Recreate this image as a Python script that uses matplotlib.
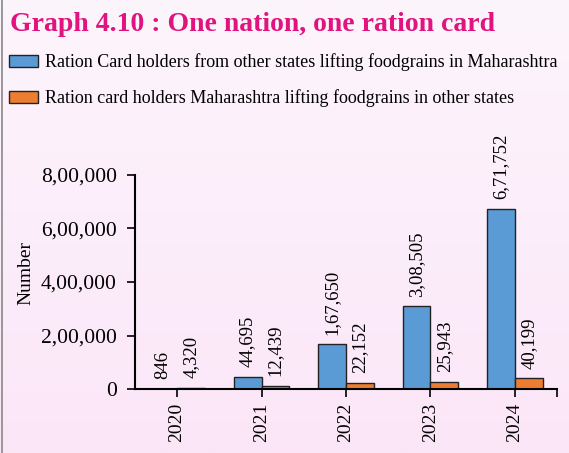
import numpy as np
import matplotlib.pyplot as plt
from matplotlib.colors import LinearSegmentedColormap

plt.rcParams["font.family"] = ["Liberation Serif", "DejaVu Serif"]

years = ["2020", "2021", "2022", "2023", "2024"]
in_maharashtra = [846, 44695, 167650, 308505, 671752]
in_other_states = [4320, 12439, 22152, 25943, 40199]
in_maharashtra_labels = ["846", "44,695", "1,67,650", "3,08,505", "6,71,752"]
in_other_states_labels = ["4,320", "12,439", "22,152", "25,943", "40,199"]
y_ticks = [0, 200000, 400000, 600000, 800000]
y_tick_labels = ["0", "2,00,000", "4,00,000", "6,00,000", "8,00,000"]

legend_labels = ["Ration Card holders from other states lifting foodgrains in Maharashtra",
                 "Ration card holders Maharashtra lifting foodgrains in other states"]

blue = "#5b9bd5"
orange = "#ed7d31"
bg = "#fcedfa"

fig = plt.figure(figsize=(5.69, 4.53), dpi=100)
fig.patch.set_facecolor(bg)

# light gradient background
grad = np.linspace(0, 1, 256).reshape(-1, 1)
bg_ax = fig.add_axes([0, 0, 1, 1], zorder=-10)
bg_ax.imshow(grad, aspect="auto",
             cmap=LinearSegmentedColormap.from_list("bg", ["#fdf5fc", "#fbe6f8"]),
             extent=[0, 1, 0, 1], origin="upper")
bg_ax.axis("off")

# left border line
fig.add_artist(plt.Line2D([0.004, 0.004], [0, 1], color="#888888", linewidth=1.2))

ax = fig.add_axes([0.237, 0.141, 0.742, 0.473])
ax.set_facecolor("none")

x = np.arange(len(years))
w = 0.33
b1 = ax.bar(x - w/2, in_maharashtra, width=w, color=blue, edgecolor="#222222", linewidth=1.0)
b2 = ax.bar(x + w/2, in_other_states, width=w, color=orange, edgecolor="#222222", linewidth=1.0)

for bars, labs in [(b1, in_maharashtra_labels), (b2, in_other_states_labels)]:
    for rect, lab in zip(bars, labs):
        ax.annotate(lab, (rect.get_x() + rect.get_width()/2, rect.get_height()),
                    xytext=(0, 7), textcoords="offset points",
                    ha="center", va="bottom", rotation=90, fontsize=13.5)

ax.set_xlim(-0.5, 4.5)
ax.set_ylim(0, 800000)
ax.set_yticks(y_ticks)
ax.set_yticklabels(y_tick_labels, fontsize=15.5)
ax.set_xticks(x)
ax.set_xticklabels(years, rotation=90, fontsize=14)
ax.set_xticks([4.5], minor=True)
ax.tick_params(axis="both", which="both", direction="out", length=6, width=1.2, color="black")
ax.tick_params(axis="x", pad=4)
ax.tick_params(axis="y", pad=7)
ax.set_ylabel("Number", fontsize=14)
ax.yaxis.set_label_coords(-0.237, 0.54)

for s in ["top", "right"]:
    ax.spines[s].set_visible(False)
for s in ["left", "bottom"]:
    ax.spines[s].set_linewidth(1.5)

fig.text(0.018, 0.945, "Graph 4.10 : One nation, one ration card", fontsize=20,
         fontweight="bold", color="#e0137f", va="center", ha="left")

fig.legend([b1, b2], legend_labels, loc="upper left", bbox_to_anchor=(0.015, 0.882),
           frameon=False, fontsize=13, handlelength=1.65, handleheight=0.68,
           handletextpad=0.35, labelspacing=1.0, borderaxespad=0, borderpad=0)

fig.savefig("out.png", dpi=100, facecolor=fig.get_facecolor())
